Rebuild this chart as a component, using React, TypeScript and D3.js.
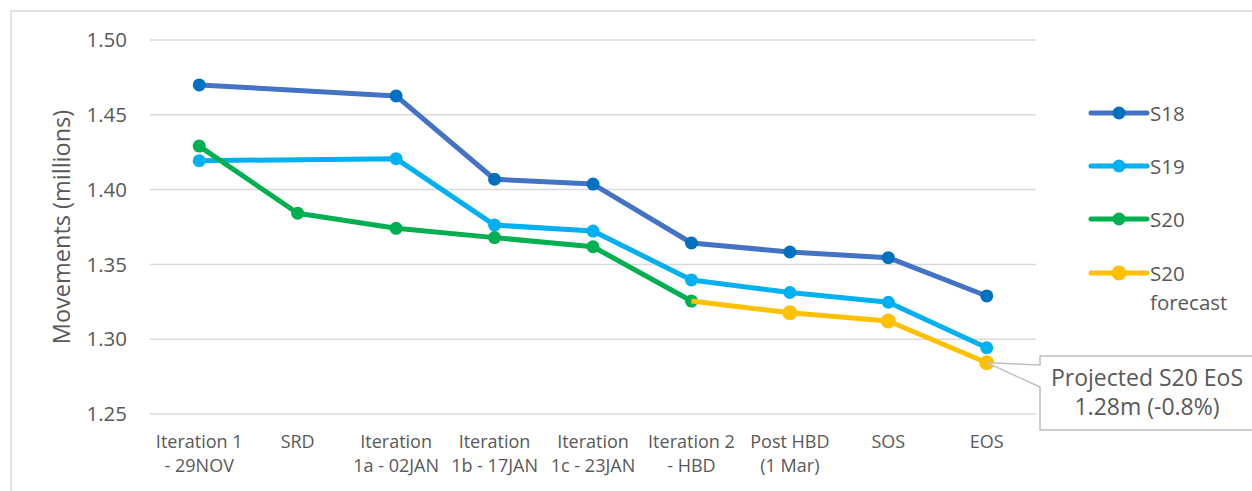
import React from "react";
import * as d3 from "d3";

const categories: string[][] = [
  ["Iteration 1", "- 29NOV"],
  ["SRD"],
  ["Iteration", "1a - 02JAN"],
  ["Iteration", "1b - 17JAN"],
  ["Iteration", "1c - 23JAN"],
  ["Iteration 2", "- HBD"],
  ["Post HBD", "(1 Mar)"],
  ["SOS"],
  ["EOS"],
];
const catKeys = categories.map((c) => c.join(" "));

const s18: (number | null)[] = [1.47, null, 1.4626, 1.4069, 1.4037, 1.3643, 1.3583, 1.3545, 1.3289];
const s19: (number | null)[] = [1.4193, null, 1.4207, 1.3763, 1.3723, 1.3396, 1.3312, 1.3247, 1.2943];
const s20: (number | null)[] = [1.4291, 1.3842, 1.3741, 1.3679, 1.3618, 1.3255, null, null, null];
const s20f: (number | null)[] = [null, null, null, null, null, 1.3255, 1.3177, 1.3122, 1.2843];
const s20fMarkers: boolean[] = [false, false, false, false, false, false, true, true, true];

const yTicks = [1.25, 1.3, 1.35, 1.4, 1.45, 1.5];

const seriesList = [
  { name: ["S18"], values: s18, line: "#4472C4", marker: "#0070C0", r: 6.5, markers: s18.map((v) => v != null) },
  { name: ["S19"], values: s19, line: "#00B0F0", marker: "#00B0F0", r: 6.5, markers: s19.map((v) => v != null) },
  { name: ["S20"], values: s20, line: "#00B050", marker: "#00B050", r: 6.5, markers: s20.map((v) => v != null) },
  { name: ["S20", "forecast"], values: s20f, line: "#FFC000", marker: "#FFC000", r: 7.5, markers: s20fMarkers },
];

const FONT = "'Open Sans', 'Noto Sans', sans-serif";
const TXT = "#595959";

export default function App() {
  const W = 1252;
  const H = 491;
  const x = d3.scaleBand<string>().domain(catKeys).range([150, 1036]);
  const y = d3.scaleLinear().domain([1.25, 1.5]).range([414, 40]);
  const cx = (i: number) => (x(catKeys[i]) as number) + x.bandwidth() / 2;

  const lineGen = d3
    .line<[number, number]>()
    .x((d) => d[0])
    .y((d) => d[1]);

  const legendY = [113, 166, 219, 273];

  const eosX = cx(8);
  const eosY = y(s20f[8] as number);
  const boxL = 1040;
  const boxT = 356;
  const boxB = 430;
  const callout = `M${boxL},${boxT} H${W + 10} V${boxB} H${boxL} V387 L${eosX},${eosY} L${boxL},365 Z`;

  return (
    <svg
      width={W}
      height={H}
      style={{ position: "absolute", left: 0, top: 0, display: "block", background: "#fff" }}
      fontFamily={FONT}
    >
      <rect x={11} y={11} width={W + 20} height={H + 20} fill="#fff" stroke="#D9D9D9" strokeWidth={1.5} />

      {yTicks.map((t) => (
        <g key={t}>
          <line x1={150} x2={1036} y1={y(t)} y2={y(t)} stroke="#D9D9D9" strokeWidth={1.5} />
          <text x={127} y={y(t)} dy="0.35em" textAnchor="end" fontSize={20.5} fill={TXT}>
            {d3.format(".2f")(t)}
          </text>
        </g>
      ))}

      <text
        transform={`translate(62,227) rotate(-90)`}
        textAnchor="middle"
        dy="0.35em"
        fontSize={23.5}
        fill={TXT}
      >
        Movements (millions)
      </text>

      {categories.map((lines, i) => (
        <text key={i} x={cx(i)} y={448} textAnchor="middle" fontSize={18} fill={TXT}>
          {lines.map((l, j) => (
            <tspan key={j} x={cx(i)} y={448 + j * 24}>
              {l}
            </tspan>
          ))}
        </text>
      ))}

      {seriesList.map((s, si) => {
        const pts: [number, number][] = [];
        s.values.forEach((v, i) => {
          if (v != null) pts.push([cx(i), y(v)]);
        });
        return (
          <g key={si}>
            <path d={lineGen(pts) || ""} fill="none" stroke={s.line} strokeWidth={5} strokeLinejoin="round" />
            {s.values.map((v, i) =>
              v != null && s.markers[i] ? <circle key={i} cx={cx(i)} cy={y(v)} r={s.r} fill={s.marker} /> : null
            )}
          </g>
        );
      })}

      {seriesList.map((s, si) => (
        <g key={"lg" + si}>
          <line x1={1091} x2={1147} y1={legendY[si]} y2={legendY[si]} stroke={s.line} strokeWidth={5} strokeLinecap="round" />
          <circle cx={1119} cy={legendY[si]} r={s.r} fill={s.marker} />
          <text x={1150} y={legendY[si] + 8} fontSize={20.5} fill={TXT}>
            {s.name.map((n, j) => (
              <tspan key={j} x={1150} y={legendY[si] + 8 + j * 29}>
                {n}
              </tspan>
            ))}
          </text>
        </g>
      ))}

      <path d={callout} fill="#fff" stroke="#BFBFBF" strokeWidth={1.5} />
      <text x={1147} y={386} textAnchor="middle" fontSize={23} fill={TXT}>
        Projected S20 EoS
      </text>
      <text x={1147} y={415} textAnchor="middle" fontSize={23} fill={TXT}>
        1.28m (-0.8%)
      </text>
    </svg>
  );
}
